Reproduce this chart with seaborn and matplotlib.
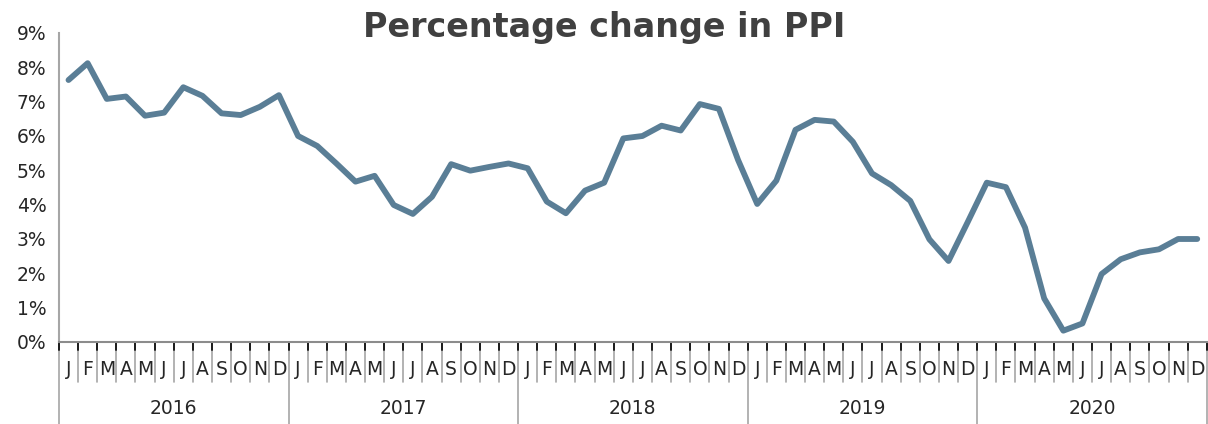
import matplotlib

matplotlib.use("Agg")
import matplotlib.pyplot as plt
import matplotlib.transforms as mtransforms
import pandas as pd
import seaborn as sns

years = ["2016", "2017", "2018", "2019", "2020"]
month_letters = ["J", "F", "M", "A", "M", "J", "J", "A", "S", "O", "N", "D"]
ppi_change = [
    7.63, 8.12, 7.08, 7.15, 6.59, 6.68, 7.42, 7.17, 6.66, 6.61, 6.85, 7.19,
    6.00, 5.71, 5.20, 4.67, 4.84, 3.99, 3.73, 4.23, 5.18, 4.99, 5.10, 5.20,
    5.06, 4.09, 3.75, 4.41, 4.64, 5.93, 6.00, 6.30, 6.16, 6.93, 6.79, 5.30,
    4.02, 4.70, 6.18, 6.47, 6.42, 5.83, 4.91, 4.57, 4.11, 2.99, 2.36, 3.49,
    4.64, 4.51, 3.33, 1.27, 0.33, 0.54, 1.98, 2.41, 2.61, 2.70, 3.00, 3.00,
]
y_ticks = list(range(0, 10))

df = pd.DataFrame({"month": range(len(ppi_change)), "value": ppi_change})

sns.set_style("white")
plt.rcParams["font.family"] = ["DejaVu Sans"]

fig = plt.figure(figsize=(12.08, 4.24), dpi=100)
ax = fig.add_axes([0.0488, 0.1934, 0.9502, 0.7288])

sns.lineplot(data=df, x="month", y="value", color="#5a7e96", linewidth=4.2,
             solid_joinstyle="round", solid_capstyle="round", ax=ax)

ax.set_xlim(-0.5, len(ppi_change) - 0.5)
ax.set_ylim(0, 9)
ax.set_yticks(y_ticks)
ax.set_yticklabels([f"{t}%" for t in y_ticks], fontsize=13.5, color="#262626")
ax.tick_params(axis="y", length=6, color="#a6a6a6", width=1.2, pad=3)
ax.set_xticks([])
ax.set_xlabel("")
ax.set_ylabel("")

for side in ["top", "right"]:
    ax.spines[side].set_visible(False)
ax.spines["left"].set_color("#a6a6a6")
ax.spines["left"].set_linewidth(1.5)
ax.spines["bottom"].set_color("#8c8c8c")
ax.spines["bottom"].set_linewidth(1.5)

# two-level category axis: month letters and year groups
trans = mtransforms.blended_transform_factory(ax.transData, ax.transAxes)
n = len(ppi_change)
for i in range(n + 1):
    x = i - 0.5
    low = -0.265 if i % 12 == 0 else -0.13
    ax.plot([x, x], [0, low], transform=trans, color="#a6a6a6", lw=1.2, clip_on=False)
    ax.plot([x, x], [0, -0.025], transform=trans, color="#1a1a1a", lw=1.4, clip_on=False)
for i in range(n):
    ax.text(i, -0.09, month_letters[i % 12], transform=trans, ha="center", va="center",
            fontsize=13.5, color="#262626")
for k, yr in enumerate(years):
    ax.text(k * 12 + 5.5, -0.215, yr, transform=trans, ha="center", va="center",
            fontsize=13.5, color="#262626")

fig.text(0.5, 0.935, "Percentage change in PPI", ha="center", va="center",
         fontsize=24, fontweight="bold", color="#404040")

fig.savefig("out.png", dpi=100)
